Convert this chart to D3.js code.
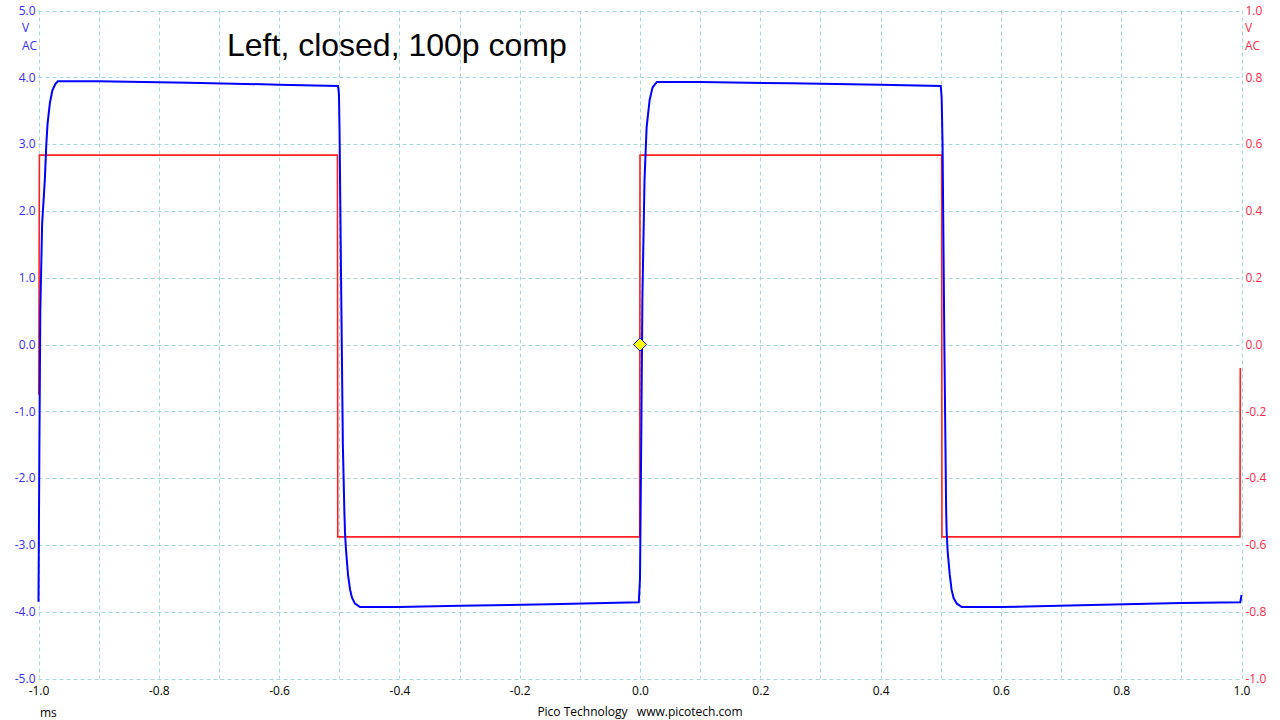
<!DOCTYPE html>
<html>
<head>
<meta charset="utf-8">
<script src="https://cdn.jsdelivr.net/npm/d3@7"></script>
<style>
  html, body { margin: 0; padding: 0; background: #ffffff; }
  svg { display: block; }
</style>
</head>
<body>
<svg id="chart" width="1280" height="720"></svg>
<script>
// ---- data ----
const title = "Left, closed, 100p comp";
const xTicks = [-1.0, -0.8, -0.6, -0.4, -0.2, 0.0, 0.2, 0.4, 0.6, 0.8, 1.0];
const xGrid = [-1.0, -0.9, -0.8, -0.7, -0.6, -0.5, -0.4, -0.3, -0.2, -0.1, 0.0, 0.1, 0.2, 0.3, 0.4, 0.5, 0.6, 0.7, 0.8, 0.9, 1.0];
const leftTicks = [5, 4, 3, 2, 1, 0, -1, -2, -3, -4, -5];
const rightTicks = [1.0, 0.8, 0.6, 0.4, 0.2, 0.0, -0.2, -0.4, -0.6, -0.8, -1.0];

// Channel A (blue, volts, left axis)
const blueT = [-1.000, -0.9985, -0.997, -0.994, -0.9895, -0.987, -0.985, -0.981, -0.977, -0.972, -0.968,
  -0.90, -0.75, -0.60, -0.502, -0.5005, -0.4995, -0.497, -0.494, -0.4915, -0.4904, -0.4888, -0.4854,
  -0.482, -0.4788, -0.4738, -0.4655, -0.40, -0.30, -0.15, -0.002,
  0.000, 0.002, 0.004, 0.0075, 0.011, 0.016, 0.021, 0.028, 0.10, 0.25, 0.40, 0.500,
  0.5015, 0.503, 0.506, 0.509, 0.5099, 0.5115, 0.515, 0.518, 0.5215, 0.527, 0.535,
  0.60, 0.75, 0.90, 0.998, 1.000];
const blueV = [-3.85, -1.5, 0.5, 1.8, 2.46, 3.0, 3.3, 3.62, 3.8, 3.9, 3.94,
  3.94, 3.92, 3.89, 3.87, 3.75, 3.2, 1.0, -1.5, -2.5, -2.82, -3.07, -3.45,
  -3.67, -3.79, -3.88, -3.93, -3.93, -3.91, -3.89, -3.86,
  -3.5, -1.5, 0.7, 2.46, 3.25, 3.66, 3.85, 3.93, 3.93, 3.91, 3.89, 3.87,
  3.7, 3.0, 0.0, -2.5, -2.82, -3.1, -3.45, -3.67, -3.8, -3.88, -3.93,
  -3.93, -3.90, -3.87, -3.86, -3.75];

// Channel B (red, volts, right axis)
const redT = [-1.000, -0.9995, -0.9985, -0.70, -0.503, -0.5025, -0.25, -0.0005, 0.000, 0.25, 0.5015, 0.502, 0.75, 0.9975, 0.998];
const redV = [-0.15, -0.15, 0.567, 0.567, 0.567, -0.576, -0.576, -0.576, 0.567, 0.567, 0.567, -0.576, -0.576, -0.576, -0.07];

const trigger = { t: 0.0, v: 0.0 };

// ---- layout ----
const svg = d3.select("#chart");
const L = 38.5, R = 1241.5, T = 10.5, B = 678.5;
const x = d3.scaleLinear().domain([-1, 1]).range([L, R]);
const yL = d3.scaleLinear().domain([-5, 5]).range([B, T]);
const yR = d3.scaleLinear().domain([-1, 1]).range([B, T]);
const font = "'Open Sans', 'Noto Sans', 'DejaVu Sans', sans-serif";
const gridColor = "#a8d6df";
const fmt = d => d3.format(".1f")(d).replace("\u2212", "-");

// grid
const g = svg.append("g");
g.selectAll("line.vx").data(xGrid).enter().append("line")
  .attr("x1", d => Math.round(x(d)) + 0.5).attr("x2", d => Math.round(x(d)) + 0.5)
  .attr("y1", T).attr("y2", B)
  .attr("stroke", gridColor).attr("stroke-width", 1).attr("stroke-dasharray", "4,3");
g.selectAll("line.hy").data(leftTicks).enter().append("line")
  .attr("x1", L).attr("x2", R)
  .attr("y1", d => Math.round(yL(d)) + 0.5).attr("y2", d => Math.round(yL(d)) + 0.5)
  .attr("stroke", gridColor).attr("stroke-width", 1).attr("stroke-dasharray", "4,3");

// left axis labels
const leftAxis = d3.axisLeft(yL).tickValues(leftTicks).tickFormat(fmt).tickSize(0).tickPadding(3);
const la = svg.append("g").attr("transform", `translate(${L},0)`).call(leftAxis);
la.select(".domain").remove();
la.selectAll("text").attr("fill", "#3a2cf5").style("font-family", font).style("font-size", "12px");
svg.append("text").attr("x", 22).attr("y", 32).text("V")
  .attr("fill", "#3a2cf5").style("font-family", font).style("font-size", "12px");
svg.append("text").attr("x", 22).attr("y", 50).text("AC")
  .attr("fill", "#3a2cf5").style("font-family", font).style("font-size", "12px");

// right axis labels
const rightAxis = d3.axisRight(yR).tickValues(rightTicks).tickFormat(fmt).tickSize(0).tickPadding(4);
const ra = svg.append("g").attr("transform", `translate(${R},0)`).call(rightAxis);
ra.select(".domain").remove();
ra.selectAll("text").attr("fill", "#ff2a4a").style("font-family", font).style("font-size", "12px");
svg.append("text").attr("x", 1245).attr("y", 32).text("V")
  .attr("fill", "#ff2a4a").style("font-family", font).style("font-size", "12px");
svg.append("text").attr("x", 1245).attr("y", 50).text("AC")
  .attr("fill", "#ff2a4a").style("font-family", font).style("font-size", "12px");

// bottom axis labels
const bottomAxis = d3.axisBottom(x).tickValues(xTicks).tickFormat(fmt).tickSize(0).tickPadding(8);
const ba = svg.append("g").attr("transform", `translate(0,${B})`).call(bottomAxis);
ba.select(".domain").remove();
ba.selectAll("text").attr("fill", "#000").style("font-family", font).style("font-size", "12px");
svg.append("text").attr("x", 40).attr("y", 717).text("ms")
  .attr("fill", "#000").style("font-family", font).style("font-size", "12px");
svg.append("text").attr("x", 640).attr("y", 716).attr("text-anchor", "middle")
  .text("Pico Technology   www.picotech.com").attr("xml:space", "preserve")
  .style("white-space", "pre")
  .attr("fill", "#000").style("font-family", font).style("font-size", "12px");

// traces
const blueData = blueT.map((t, i) => [t, blueV[i]]);
const redData = redT.map((t, i) => [t, redV[i]]);
svg.append("path").datum(redData)
  .attr("d", d3.line().x(d => x(d[0])).y(d => yR(d[1])))
  .attr("fill", "none").attr("stroke", "#ff2020").attr("stroke-width", 1.6);
svg.append("path").datum(blueData)
  .attr("d", d3.line().x(d => x(d[0])).y(d => yL(d[1])))
  .attr("fill", "none").attr("stroke", "#0000ff").attr("stroke-width", 2);

// trigger marker
const mx = x(trigger.t), my = yL(trigger.v);
svg.append("path")
  .attr("d", d3.symbol().type(d3.symbolDiamond2).size(110)())
  .attr("transform", `translate(${mx},${my})`)
  .attr("fill", "#ffff00").attr("stroke", "#0000ff").attr("stroke-width", 1);

// title
svg.append("text").attr("x", 227).attr("y", 56).text(title)
  .attr("fill", "#000").style("font-family", "'Liberation Sans', Arial, sans-serif").style("font-size", "32px");
</script>
</body>
</html>
